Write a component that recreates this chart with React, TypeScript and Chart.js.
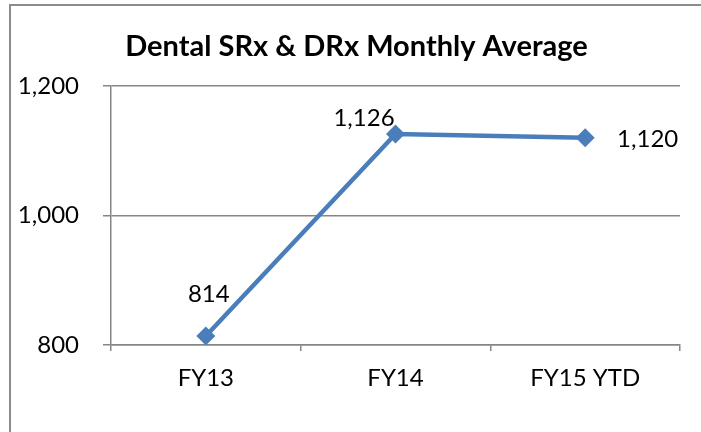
import React, { useEffect, useRef } from "react";
import { Chart, registerables } from "chart.js";

Chart.register(...registerables);

const categories = ["FY13", "FY14", "FY15 YTD"];
const values = [814, 1126, 1120];
const yTicks = [800, 1000, 1200];
const titleText = "Dental SRx & DRx Monthly Average";

const FONT = "Lato, 'Open Sans', sans-serif";
const GRID = "#868686";
const LINE = "#4a7ebb";

const fmt = (v: number) => v.toLocaleString("en-US");

const labelOffsets = [
  { dx: 3, dy: -41.5 },
  { dx: -31.5, dy: -15.5 },
  { dx: 62.5, dy: 1.6 },
];

const decor = {
  id: "decor",
  afterLayout(chart: any) {
    const t = chart.titleBlock;
    if (t) t.left = 33;
  },
  beforeDraw(chart: any) {
    const ctx = chart.ctx;
    ctx.save();
    ctx.fillStyle = "#ffffff";
    ctx.fillRect(0, 0, chart.width, chart.height);
    ctx.strokeStyle = "#8c8c8c";
    ctx.lineWidth = 2;
    ctx.beginPath();
    ctx.moveTo(10, chart.height);
    ctx.lineTo(10, 5);
    ctx.lineTo(chart.width, 5);
    ctx.stroke();
    ctx.restore();
  },
  afterDatasetsDraw(chart: any) {
    const ctx = chart.ctx;
    const meta = chart.getDatasetMeta(0);
    ctx.save();
    ctx.font = `24px ${FONT}`;
    ctx.fillStyle = "#000";
    ctx.textAlign = "center";
    ctx.textBaseline = "middle";
    meta.data.forEach((pt: any, i: number) => {
      const o = labelOffsets[i];
      ctx.fillText(fmt(values[i]), pt.x + o.dx, pt.y + o.dy);
    });
    ctx.restore();
  },
};

export default function App() {
  const ref = useRef<HTMLCanvasElement>(null);
  useEffect(() => {
    const chart = new Chart(ref.current!, {
      type: "line",
      data: {
        labels: categories,
        datasets: [
          {
            data: values,
            borderColor: LINE,
            backgroundColor: LINE,
            borderWidth: 4.5,
            pointStyle: "rectRot",
            pointRadius: 9.5,
            pointBorderWidth: 0,
            pointBackgroundColor: LINE,
            tension: 0,
          },
        ],
      },
      options: {
        animation: false,
        responsive: false,
        layout: { padding: { left: 10, right: 21, top: 0, bottom: 0 } },
        plugins: {
          legend: { display: false },
          tooltip: { enabled: false },
          title: {
            display: true,
            text: titleText,
            color: "#000",
            font: { family: FONT, size: 29, weight: "bold", lineHeight: 1.2 },
            padding: { top: 29.5, bottom: 21.7 },
          },
        },
        scales: {
          x: {
            offset: true,
            grid: {
              offset: true,
              drawOnChartArea: false,
              drawTicks: true,
              tickLength: 6,
              color: GRID,
              lineWidth: 1.5,
            },
            border: { display: true, color: GRID, width: 1.5 },
            ticks: { color: "#000", font: { family: FONT, size: 24 }, padding: 13 },
            afterFit: (s: any) => {
              s.height = 87;
            },
          },
          y: {
            min: 800,
            max: 1200,
            afterBuildTicks: (s: any) => {
              s.ticks = yTicks.map((v) => ({ value: v }));
            },
            grid: { color: GRID, lineWidth: 1.5, tickLength: 8 },
            border: { display: true, color: GRID, width: 1.5 },
            ticks: {
              color: "#000",
              font: { family: FONT, size: 24 },
              padding: 24,
              callback: (v: any) => fmt(Number(v)),
            },
            afterFit: (s: any) => {
              s.width = 101;
            },
          },
        },
      },
      plugins: [decor],
    });
    return () => chart.destroy();
  }, []);
  return (
    <div style={{ position: "fixed", left: 0, top: 0, width: 701, height: 432 }}>
      <canvas ref={ref} width={701} height={432} style={{ display: "block" }} />
    </div>
  );
}
